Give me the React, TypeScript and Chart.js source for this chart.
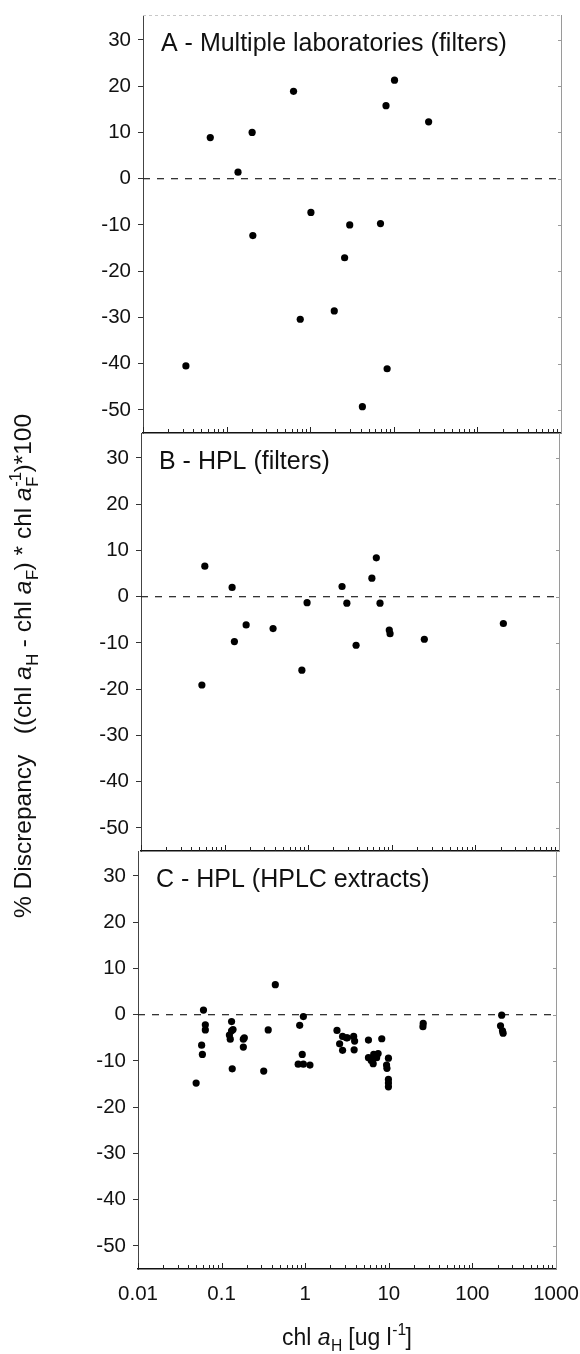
import React, { useEffect, useRef } from 'react';
import { Chart, registerables } from 'chart.js';

Chart.register(...registerables);

// ---------------- data ----------------
const xDecades = [0.01, 0.1, 1, 10, 100, 1000];
const xDecadeLabels = ['0.01', '0.1', '1', '10', '100', '1000'];
const xMinorMultipliers = [2, 3, 4, 5, 6, 7, 8, 9];
const yTickValues = [-50, -40, -30, -20, -10, 0, 10, 20, 30];
const X_MIN = 0.01;
const X_MAX = 1000;
const Y_MIN = -55;
const Y_MAX = 35.4;

const titleA = 'A - Multiple laboratories (filters)';
const titleB = 'B - HPL (filters)';
const titleC = 'C - HPL (HPLC extracts)';

// Panel A: multiple laboratories (filters)
const chlA_A = [0.0638, 0.137, 0.202, 0.632, 10.2, 8.07, 26.1, 1.02, 0.206, 2.97, 6.93, 2.58, 0.76, 1.94, 0.0326, 8.32, 4.21];
const discA = [8.9, 1.4, 10.0, 18.9, 21.3, 15.8, 12.3, -7.3, -12.3, -10.0, -9.7, -17.1, -30.4, -28.6, -40.5, -41.1, -49.3];

// Panel B: HPL (filters)
const chlA_B = [0.058, 0.0535, 0.123, 0.131, 0.181, 0.38, 0.84, 0.97, 2.54, 2.9, 3.74, 5.78, 6.53, 7.23, 9.33, 9.53, 24.5, 216];
const discB = [6.6, -19.1, 2.0, -9.7, -6.1, -6.9, -15.9, -1.3, 2.2, -1.4, -10.5, 4.0, 8.4, -1.4, -7.2, -8.0, -9.2, -5.8];

// Panel C: HPL (HPLC extracts)
const chlA_C = [
  0.0496, 0.0607, 0.0577, 0.0589, 0.0639, 0.0639, 0.1316, 0.124, 0.127, 0.1316,
  0.137, 0.134, 0.182, 0.182, 0.187, 0.319, 0.361, 0.439, 0.859, 0.824,
  0.922, 0.951, 0.951, 1.14, 2.4, 2.58, 2.8, 2.8, 3.1, 3.2,
  3.8, 3.9, 3.85, 5.71, 5.71, 6.16, 6.5, 6.6, 7.15, 7.45,
  8.24, 9.5, 9.4, 9.9, 9.9, 9.9, 9.9, 25.8, 25.6, 224,
  217, 229, 233,
];
const discC = [
  -14.8, 1.0, -6.6, -8.6, -2.2, -3.3, -1.5, -4.4, -5.3, -3.5,
  -3.2, -11.7, -5.3, -7.0, -5.0, -12.2, -3.3, 6.5, -2.3, -10.7,
  -8.6, -10.7, -0.4, -10.9, -3.4, -6.3, -4.7, -7.7, -5.0, -5.0,
  -4.7, -5.7, -7.6, -5.5, -9.3, -9.9, -10.6, -8.6, -9.3, -8.4,
  -5.2, -11.6, -10.9, -9.4, -14.0, -14.8, -15.6, -1.9, -2.6, -0.1,
  -2.4, -3.5, -4.0,
];

// ---------------- layout / style ----------------
const PAGE_W = 580;
const PAGE_H = 1354;
const PANEL_W = 418;
const PANEL_H = 418;
const FONT = '"Liberation Sans", Arial, Helvetica, sans-serif';
const INK = '#111';

type Seg = { t: string; it?: boolean; sub?: string; sup?: string };

const yTitleSegs: Seg[] = [
  { t: '% Discrepancy   ((chl ' },
  { t: 'a', it: true, sub: 'H' },
  { t: ' - chl ' },
  { t: 'a', it: true, sub: 'F' },
  { t: ') * chl ' },
  { t: 'a', it: true, sub: 'F', sup: '-1' },
  { t: ')*100' },
];
const xTitleSegs: Seg[] = [
  { t: 'chl ' },
  { t: 'a', it: true, sub: 'H' },
  { t: ' [ug l', sup: '-1' },
  { t: ']' },
];

function drawRich(ctx: CanvasRenderingContext2D, segs: Seg[], cx: number, baseY: number, size: number) {
  const small = size * 0.68;
  const f = (s: number, it?: boolean) => `${it ? 'italic ' : ''}${s}px ${FONT}`;
  const meas = segs.map((s) => {
    ctx.font = f(size, s.it);
    const w = ctx.measureText(s.t).width;
    ctx.font = f(small);
    let sw = 0;
    if (s.sub) sw = Math.max(sw, ctx.measureText(s.sub).width);
    if (s.sup) sw = Math.max(sw, ctx.measureText(s.sup).width);
    return { w, sw };
  });
  const total = meas.reduce((a, m) => a + m.w + m.sw, 0);
  let x = cx - total / 2;
  ctx.textAlign = 'left';
  ctx.textBaseline = 'alphabetic';
  segs.forEach((s, i) => {
    ctx.font = f(size, s.it);
    ctx.fillText(s.t, x, baseY);
    x += meas[i].w;
    ctx.font = f(small);
    if (s.sub) ctx.fillText(s.sub, x + 0.5, baseY + size * 0.28);
    if (s.sup) ctx.fillText(s.sup, x + 0.5, baseY - size * 0.42);
    x += meas[i].sw;
  });
}

const decorPlugin = {
  id: 'decor',
  beforeDatasetsDraw(chart: any) {
    const { ctx, chartArea, scales } = chart;
    const y0 = scales.y.getPixelForValue(0);
    ctx.save();
    ctx.strokeStyle = '#222';
    ctx.lineWidth = 1.2;
    ctx.setLineDash([7, 7]);
    ctx.beginPath();
    ctx.moveTo(chartArea.left, y0);
    ctx.lineTo(chartArea.right, y0);
    ctx.stroke();
    ctx.restore();
  },
  afterDraw(chart: any, _args: any, opts: any) {
    const { ctx, chartArea, scales } = chart;
    const { left, right, top, bottom } = chartArea;
    ctx.save();
    // inward ticks on the bottom axis
    ctx.strokeStyle = '#222';
    ctx.lineWidth = 1;
    scales.x.ticks.forEach((t: any) => {
      const px = Math.round(scales.x.getPixelForValue(t.value)) + 0.5;
      const len = t.major ? 6 : 4;
      ctx.beginPath();
      ctx.moveTo(px, bottom);
      ctx.lineTo(px, bottom - len);
      ctx.stroke();
    });
    // right frame with small ticks
    ctx.strokeStyle = '#9a9a9a';
    ctx.beginPath();
    ctx.moveTo(right + 0.5, top);
    ctx.lineTo(right + 0.5, bottom);
    ctx.stroke();
    yTickValues.forEach((v) => {
      const py = Math.round(scales.y.getPixelForValue(v)) + 0.5;
      ctx.beginPath();
      ctx.moveTo(right, py);
      ctx.lineTo(right - 3, py);
      ctx.stroke();
    });
    if (opts.topFrame) {
      ctx.strokeStyle = '#c8c8c8';
      ctx.setLineDash([3, 3]);
      ctx.beginPath();
      ctx.moveTo(left, top + 0.5);
      ctx.lineTo(right, top + 0.5);
      ctx.stroke();
      ctx.setLineDash([]);
    }
    // panel title
    ctx.fillStyle = INK;
    ctx.font = `25px ${FONT}`;
    ctx.textAlign = 'left';
    ctx.textBaseline = 'alphabetic';
    ctx.fillText(opts.title, left + 18, top + 36);
    // axis titles
    if (opts.axisTitles) {
      drawRich(ctx, xTitleSegs, (left + right) / 2, 1345, 23);
      ctx.save();
      ctx.translate(31, 666);
      ctx.rotate(-Math.PI / 2);
      drawRich(ctx, yTitleSegs, 0, 0, 24.5);
      ctx.restore();
    }
    ctx.restore();
  },
};

type PanelDef = {
  title: string;
  xs: number[];
  ys: number[];
  left: number;
  top: number;
  labels: boolean;
  topFrame: boolean;
};

const panels: PanelDef[] = [
  { title: titleA, xs: chlA_A, ys: discA, left: 143, top: 15, labels: false, topFrame: true },
  { title: titleB, xs: chlA_B, ys: discB, left: 141, top: 433, labels: false, topFrame: false },
  { title: titleC, xs: chlA_C, ys: discC, left: 138, top: 851, labels: true, topFrame: false },
];

function buildXTicks() {
  const ticks: { value: number; major: boolean }[] = [];
  xDecades.forEach((d, i) => {
    ticks.push({ value: d, major: true });
    if (i < xDecades.length - 1) xMinorMultipliers.forEach((m) => ticks.push({ value: d * m, major: false }));
  });
  return ticks;
}

function makeConfig(p: PanelDef): any {
  const right = p.left + PANEL_W;
  const bottom = p.top + PANEL_H;
  return {
    type: 'scatter',
    data: {
      datasets: [
        {
          data: p.xs.map((x, i) => ({ x, y: p.ys[i] })),
          pointRadius: 3.6,
          pointHoverRadius: 3.6,
          backgroundColor: '#000',
          borderWidth: 0,
          showLine: false,
        },
      ],
    },
    options: {
      responsive: false,
      maintainAspectRatio: false,
      animation: false,
      events: [],
      layout: { padding: { top: p.top, left: 0, right: PAGE_W - right, bottom: 0 } },
      plugins: {
        legend: { display: false },
        tooltip: { enabled: false },
        title: { display: false },
        decor: { title: p.title, axisTitles: p.labels, topFrame: p.topFrame },
      },
      scales: {
        x: {
          type: 'logarithmic',
          min: X_MIN,
          max: X_MAX,
          afterBuildTicks: (s: any) => {
            s.ticks = buildXTicks();
          },
          afterFit: (s: any) => {
            s.height = PAGE_H - bottom;
            s.paddingLeft = 0;
            s.paddingRight = 0;
          },
          grid: { display: false },
          border: { display: true, color: '#111', width: 1.5 },
          ticks: {
            display: p.labels,
            autoSkip: false,
            maxRotation: 0,
            padding: 5,
            color: INK,
            font: { family: FONT, size: 20.5 },
            callback: (v: any) => {
              const idx = xDecades.findIndex((d) => Math.abs(d - Number(v)) < d * 1e-6);
              return idx >= 0 ? xDecadeLabels[idx] : '';
            },
          },
        },
        y: {
          type: 'linear',
          min: Y_MIN,
          max: Y_MAX,
          afterBuildTicks: (s: any) => {
            s.ticks = yTickValues.map((v) => ({ value: v }));
          },
          afterFit: (s: any) => {
            s.width = p.left;
            s.paddingTop = 0;
            s.paddingBottom = 0;
          },
          grid: { display: true, drawOnChartArea: false, drawTicks: true, tickLength: 5, color: '#333', lineWidth: 1 },
          border: { display: true, color: '#444', width: 1 },
          ticks: {
            padding: 7,
            color: INK,
            font: { family: FONT, size: 20.5 },
            callback: (v: any) => String(v),
          },
        },
      },
    },
    plugins: [decorPlugin],
  };
}

function Panel({ def }: { def: PanelDef }) {
  const ref = useRef<HTMLCanvasElement | null>(null);
  useEffect(() => {
    if (!ref.current) return;
    const chart = new Chart(ref.current, makeConfig(def));
    return () => chart.destroy();
  }, [def]);
  return (
    <canvas
      ref={ref}
      width={PAGE_W}
      height={PAGE_H}
      style={{ position: 'absolute', left: 0, top: 0, width: PAGE_W, height: PAGE_H }}
    />
  );
}

export default function App() {
  return (
    <div style={{ position: 'absolute', left: 0, top: 0, width: PAGE_W, height: PAGE_H, background: '#fff', overflow: 'hidden' }}>
      {panels.map((p) => (
        <Panel key={p.title} def={p} />
      ))}
    </div>
  );
}
